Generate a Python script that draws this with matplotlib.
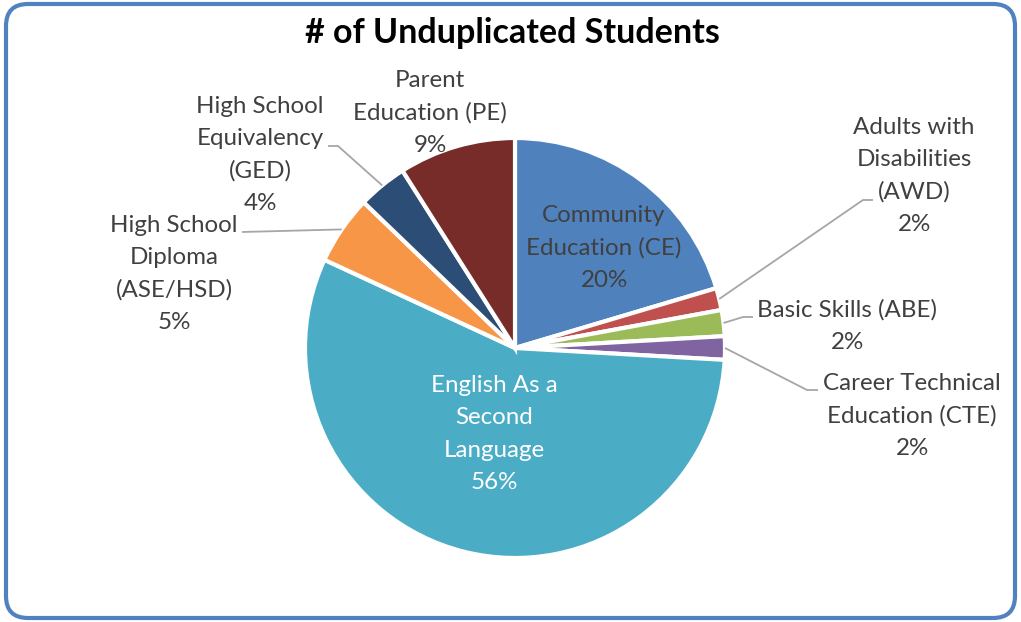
import numpy as np
import matplotlib.pyplot as plt
from matplotlib.patches import FancyBboxPatch

plt.rcParams['font.family'] = ['Lato', 'DejaVu Sans']

# share of unduplicated students per program (percent)
programs = ["Community\nEducation (CE)", "Adults with\nDisabilities\n(AWD)",
            "Basic Skills (ABE)", "Career Technical\nEducation (CTE)",
            "English As a\nSecond\nLanguage", "High School\nDiploma\n(ASE/HSD)",
            "High School\nEquivalency\n(GED)", "Parent\nEducation (PE)"]
shares = [20.4, 1.7, 2.0, 1.8, 56.0, 5.3, 3.8, 9.0]
colors = ["#4F81BD", "#C0504D", "#9BBB59", "#8064A2",
          "#4BACC6", "#F79646", "#2C4D75", "#772C2A"]

W, H = 1021, 622
fig = plt.figure(figsize=(W / 100, H / 100), dpi=100)
ax = fig.add_axes([0, 0, 1, 1])
ax.axis('off')

cx, cy, r = 515, H - 348, 210
wedges, _ = ax.pie(shares, colors=colors, startangle=90, counterclock=False,
                   center=(cx, cy), radius=r,
                   wedgeprops=dict(edgecolor='white', linewidth=3))
ax.set_xlim(0, W)
ax.set_ylim(0, H)
ax.set_aspect('equal')

# label placement in pixel space (x, y from top), and leader elbows
label_pos = [(604, 248), (914, 176), (847, 326), (912, 416),
             (494, 434), (174, 274), (260, 155), (430, 113)]
elbows = [None, [(863, 200), (873, 200)], [(743, 317), (753, 317)],
          [(807, 390), (818, 390)], None, [(242, 232)],
          [(338, 146), (328, 146)], None]

text_color = "#404040"
for i, (name, val) in enumerate(zip(programs, shares)):
    lx, ly = label_pos[i]
    col = 'white' if i == 4 else text_color
    ax.text(lx, H - ly, f"{name}\n{val:.0f}%", ha='center', va='center',
            fontsize=17.4, color=col, linespacing=1.66)
    if elbows[i]:
        w = wedges[i]
        mid = np.deg2rad((w.theta1 + w.theta2) / 2)
        xs = [cx + r * np.cos(mid)] + [p[0] for p in elbows[i]]
        ys = [cy + r * np.sin(mid)] + [H - p[1] for p in elbows[i]]
        ax.plot(xs, ys, color="#A6A6A6", lw=1.3, solid_capstyle='butt')

ax.text(512, H - 33, "# of Unduplicated Students", ha='center', va='center',
        fontsize=24.5, fontweight='bold', color='black')

border = FancyBboxPatch((6, 4), W - 12, H - 8,
                        boxstyle="round,pad=0,rounding_size=22",
                        fill=False, edgecolor="#5182C0", linewidth=3,
                        clip_on=False)
ax.add_patch(border)

fig.savefig("out.png", dpi=100)
